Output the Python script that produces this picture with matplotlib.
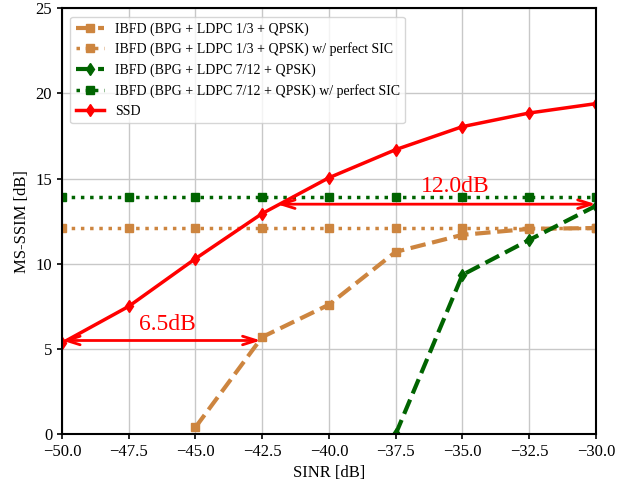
import matplotlib
matplotlib.use("Agg")
import matplotlib.pyplot as plt

plt.rcParams['font.family'] = ['Liberation Serif', 'DejaVu Serif']
plt.rcParams['mathtext.fontset'] = 'stix'

sinr = [-50, -47.5, -45, -42.5, -40, -37.5, -35, -32.5, -30]

ibfd_13 = [None, None, 0.4, 5.7, 7.6, 10.7, 11.7, 12.05, 12.1]
ibfd_13_sic = [12.1, 12.1, 12.1, 12.1, 12.1, 12.1, 12.1, 12.1, 12.1]
ibfd_712 = [None, None, None, None, None, 0.0, 9.35, 11.4, 13.4]
ibfd_712_sic = [13.9, 13.9, 13.9, 13.9, 13.9, 13.9, 13.9, 13.9, 13.9]
ssd = [5.35, 7.5, 10.3, 12.95, 15.05, 16.7, 18.05, 18.85, 19.4]

labels = [
    "IBFD (BPG + LDPC 1/3 + QPSK)",
    "IBFD (BPG + LDPC 1/3 + QPSK) w/ perfect SIC",
    "IBFD (BPG + LDPC 7/12 + QPSK)",
    "IBFD (BPG + LDPC 7/12 + QPSK) w/ perfect SIC",
    "SSD",
]


def pts(y):
    xs = [x for x, v in zip(sinr, y) if v is not None]
    ys = [v for v in y if v is not None]
    return xs, ys


orange = '#CD853F'
green = '#006400'

fig, ax = plt.subplots(figsize=(6.38, 4.83), dpi=100)
fig.subplots_adjust(left=0.097, right=0.934, top=0.983, bottom=0.101)

ax.plot(*pts(ibfd_13), color=orange, ls='--', lw=3, marker='s', ms=6, label=labels[0])
ax.plot(*pts(ibfd_13_sic), color=orange, ls=':', lw=2.5, marker='s', ms=6, label=labels[1])
ax.plot(*pts(ibfd_712), color=green, ls='--', lw=3, marker='d', ms=6, label=labels[2])
ax.plot(*pts(ibfd_712_sic), color=green, ls=':', lw=2.5, marker='s', ms=6, label=labels[3])
ax.plot(*pts(ssd), color='red', ls='-', lw=2.5, marker='d', ms=6, label=labels[4])

# gap annotations
arrow = dict(arrowstyle='<->, head_length=0.7, head_width=0.22', color='red', lw=2,
             shrinkA=0, shrinkB=0, mutation_scale=14)
ax.annotate('', xy=(-50, 5.5), xytext=(-42.55, 5.5), arrowprops=arrow)
ax.text(-46.05, 5.85, '6.5dB', color='red', fontsize=17, ha='center', va='bottom')
ax.annotate('', xy=(-41.95, 13.5), xytext=(-30, 13.5), arrowprops=arrow)
ax.text(-35.25, 13.95, '12.0dB', color='red', fontsize=17, ha='center', va='bottom')

ax.set_xlim(-50, -30)
ax.set_ylim(0, 25)
ax.set_xlabel('SINR [dB]', fontsize=12)
ax.set_ylabel('MS-SSIM [dB]', fontsize=12)
ax.tick_params(labelsize=12, width=1.2)
for s in ax.spines.values():
    s.set_linewidth(1.5)
ax.grid(True, color='#c8c8c8', lw=1)
ax.legend(loc='upper left', fontsize=10, handlelength=2.0, borderaxespad=0.6)

plt.savefig('out.png', dpi=100)
